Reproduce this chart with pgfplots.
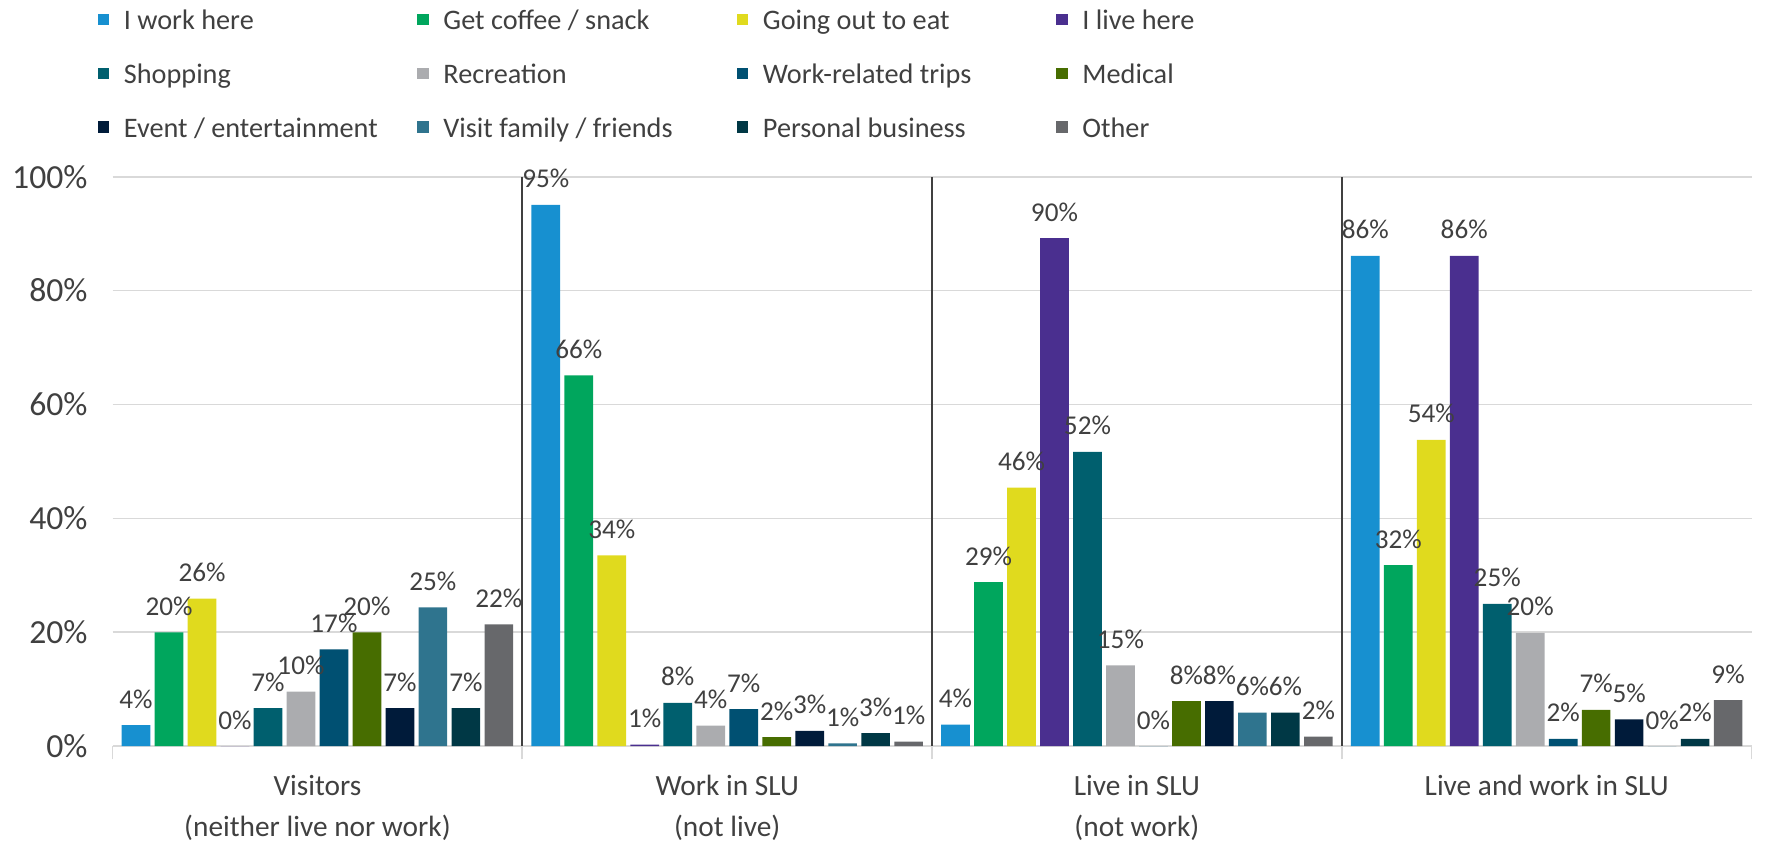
\documentclass[border=0pt]{standalone}
\usepackage{pgfplots}
\pgfplotsset{compat=1.18}
\usepackage{fontspec}
\setmainfont{Carlito}
\definecolor{cA}{HTML}{1790D0}
\definecolor{cB}{HTML}{00A65D}
\definecolor{cC}{HTML}{E0DA1E}
\definecolor{cD}{HTML}{4A2F8F}
\definecolor{cE}{HTML}{005F6E}
\definecolor{cF}{HTML}{ABACAF}
\definecolor{cG}{HTML}{005072}
\definecolor{cH}{HTML}{476D00}
\definecolor{cI}{HTML}{001B3A}
\definecolor{cJ}{HTML}{2F748E}
\definecolor{cK}{HTML}{003845}
\definecolor{cL}{HTML}{67686B}
\definecolor{txt}{HTML}{404040}
\definecolor{gridc}{HTML}{D9D9D9}
\definecolor{sepc}{HTML}{404040}
\newcommand{\legtxt}[1]{\makebox[133pt][l]{\strut #1}}
\begin{document}
\begin{tikzpicture}
\begin{axis}[
  name=ax,
  scale only axis, width=754pt, height=262pt,
  ybar, bar width=0.070,
  xmin=-0.5, xmax=3.5, ymin=0, ymax=100,
  ytick={0,20,...,100},
  yticklabel={\pgfmathprintnumber{\tick}\%},
  /pgf/number format/assume math mode=true,
  ymajorgrids, major grid style={draw=gridc, line width=0.8pt},
  axis line style={draw=none},
  xtick={0,1,2,3},
  xticklabels={{Visitors\\(neither live nor work)},{Work in SLU\\(not live)},{Live in SLU\\(not work)},{Live and work in SLU}},
  xticklabel style={align=center, font=\fontsize{13.5}{19}\selectfont, text=txt, inner sep=1pt, yshift=-12pt},
  yticklabel style={font=\fontsize{15.5}{17}\selectfont, text=txt, xshift=-8pt},
  major tick length=0pt,
  minor xtick={-0.5,0.5,1.5,2.5,3.5}, minor tick length=6pt, tick align=outside,
  minor x tick style={draw=gridc, line width=0.8pt},
  extra x ticks={0.5,1.5,2.5}, extra x tick labels={},
  extra x tick style={grid=major, major grid style={draw=sepc, line width=1pt}, major tick length=0pt},
  tick pos=left,
  nodes near coords, point meta=explicit symbolic,
  every node near coord/.append style={font=\fontsize{12.5}{14}\selectfont, text=txt, inner sep=3pt, yshift=4.5pt},
  legend columns=4,
  legend style={at={(0,1)}, anchor=south west, xshift=-10pt, yshift=12.5pt, draw=none, fill=none,
    font=\fontsize{13}{15.6}\selectfont, text=txt, column sep=0pt, row sep=8.3pt},
  legend cell align=left,
  legend image code/.code={\fill[#1] (0pt,-2.6pt) rectangle (5.2pt,2.6pt); \path (10pt,0pt);},
]
\addplot[fill=cA, draw=none, bar shift=-0.44275] coordinates {(0,3.7)[4\%] (1,95.05)[95\%] (2,3.8)[4\%] (3,86.1)[86\%]};
\addlegendentry{\legtxt{I work here}}
\addplot[fill=cB, draw=none, bar shift=-0.36225] coordinates {(0,20.0)[20\%] (1,65.1)[66\%] (2,28.8)[29\%] (3,31.8)[32\%]};
\addlegendentry{\legtxt{Get coffee / snack}}
\addplot[fill=cC, draw=none, bar shift=-0.28175] coordinates {(0,25.9)[26\%] (1,33.5)[34\%] (2,45.4)[46\%] (3,53.8)[54\%]};
\addlegendentry{\legtxt{Going out to eat}}
\addplot[fill=cD, draw=none, bar shift=-0.20125] coordinates {(0,0)[0\%] (1,0.3)[1\%] (2,89.2)[90\%] (3,86.1)[86\%]};
\addlegendentry{\legtxt{I live here}}
\addplot[fill=cE, draw=none, bar shift=-0.12075] coordinates {(0,6.7)[7\%] (1,7.6)[8\%] (2,51.7)[52\%] (3,25.0)[25\%]};
\addlegendentry{\legtxt{Shopping}}
\addplot[fill=cF, draw=none, bar shift=-0.04025] coordinates {(0,9.6)[10\%] (1,3.6)[4\%] (2,14.2)[15\%] (3,19.9)[20\%]};
\addlegendentry{\legtxt{Recreation}}
\addplot[fill=cG, draw=none, bar shift=0.04025] coordinates {(0,17.0)[17\%] (1,6.5)[7\%] (2,0)[0\%] (3,1.3)[2\%]};
\addlegendentry{\legtxt{Work-related trips}}
\addplot[fill=cH, draw=none, bar shift=0.12075] coordinates {(0,20.0)[20\%] (1,1.6)[2\%] (2,7.9)[8\%] (3,6.4)[7\%]};
\addlegendentry{\legtxt{Medical}}
\addplot[fill=cI, draw=none, bar shift=0.20125] coordinates {(0,6.7)[7\%] (1,2.7)[3\%] (2,7.9)[8\%] (3,4.7)[5\%]};
\addlegendentry{\legtxt{Event / entertainment}}
\addplot[fill=cJ, draw=none, bar shift=0.28175] coordinates {(0,24.4)[25\%] (1,0.5)[1\%] (2,5.9)[6\%] (3,0)[0\%]};
\addlegendentry{\legtxt{Visit family / friends}}
\addplot[fill=cK, draw=none, bar shift=0.36225] coordinates {(0,6.7)[7\%] (1,2.3)[3\%] (2,5.9)[6\%] (3,1.3)[2\%]};
\addlegendentry{\legtxt{Personal business}}
\addplot[fill=cL, draw=none, bar shift=0.44275] coordinates {(0,21.4)[22\%] (1,0.8)[1\%] (2,1.7)[2\%] (3,8.1)[9\%]};
\addlegendentry{\legtxt{Other}}
\end{axis}
\pgfresetboundingbox
\path ([xshift=-51.8pt,yshift=-45pt]ax.south west) rectangle ([xshift=6.2pt,yshift=81.3pt]ax.north east);
\end{tikzpicture}
\end{document}
